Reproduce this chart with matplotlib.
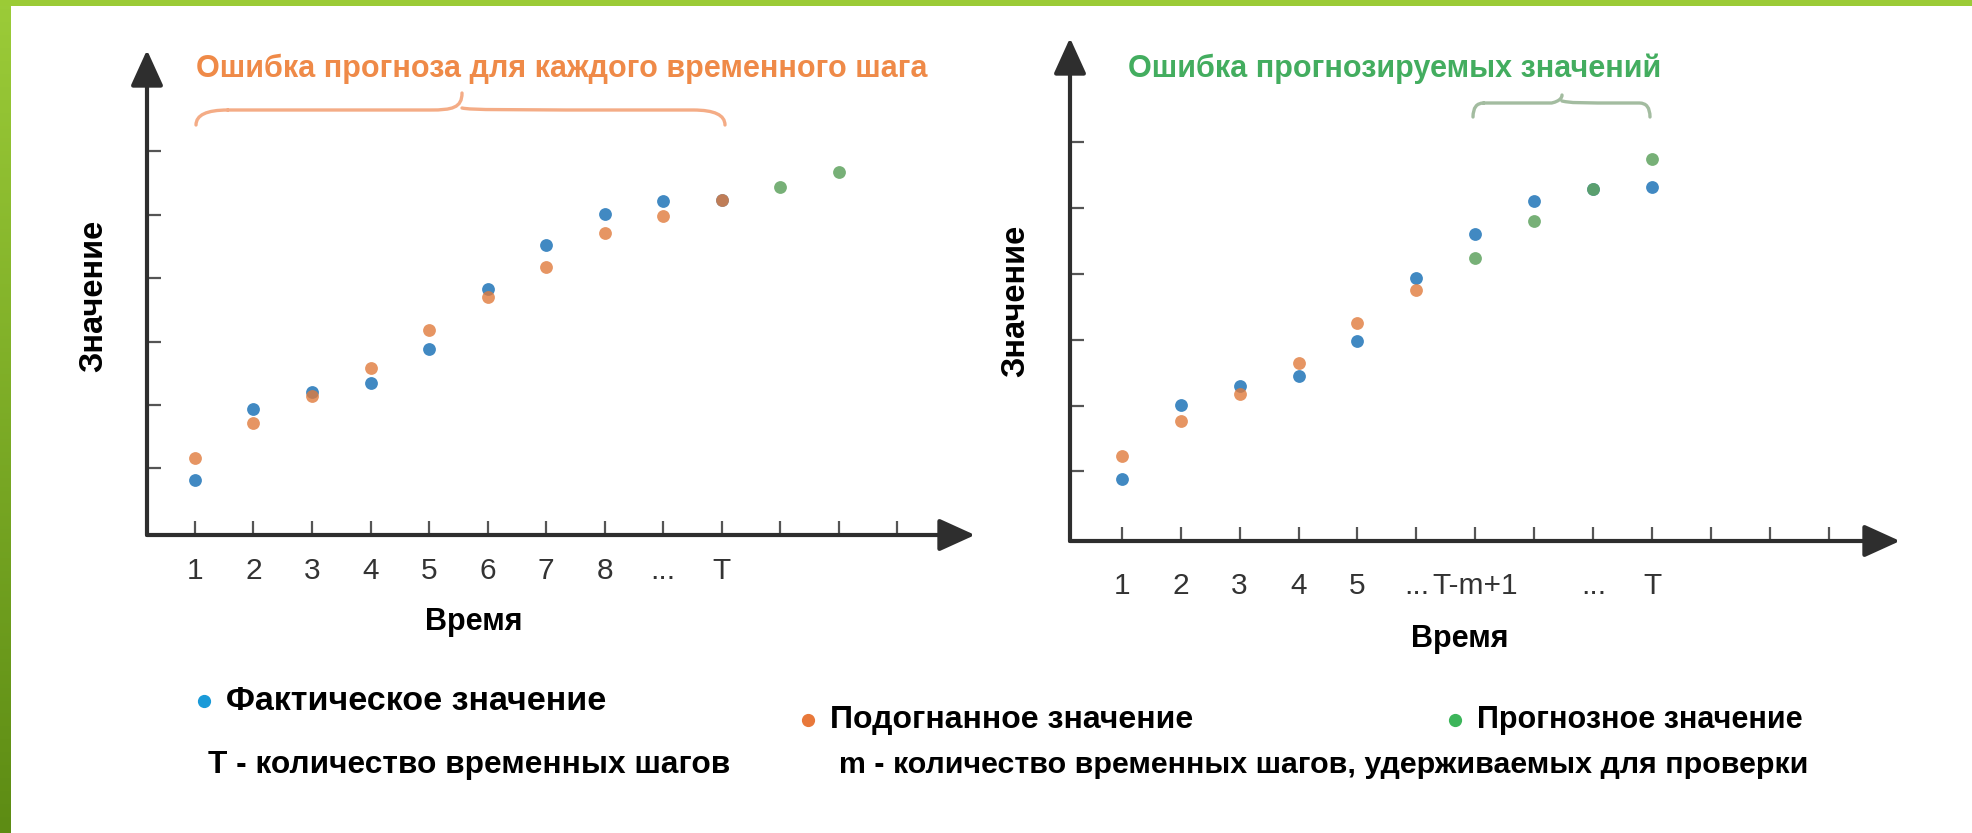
import numpy as np
import matplotlib.pyplot as plt
from matplotlib.path import Path
from matplotlib.patches import PathPatch, Rectangle
from matplotlib.colors import LinearSegmentedColormap

W, H = 1972, 833

# left panel: error of fit for each time step
left_x = [1, 2, 3, 4, 5, 6, 7, 8, 9, 10]
left_actual = [0.81, 1.94, 2.21, 2.34, 2.89, 3.83, 4.52, 5.02, 5.22, 5.24]
left_fitted = [1.17, 1.71, 2.14, 2.58, 3.18, 3.70, 4.17, 4.72, 4.98, 5.24]
left_fc_x = [11, 12]
left_forecast = [5.44, 5.67]
left_ticklabels = ['1', '2', '3', '4', '5', '6', '7', '8', '...', 'T', '', '', '']

# right panel: error of forecast values (last m steps held out)
right_x = [1, 2, 3, 4, 5, 6, 7, 8, 9, 10]
right_actual = [0.89, 2.01, 2.30, 2.45, 2.98, 3.94, 4.61, 5.10, 5.29, 5.32]
right_fit_x = [1, 2, 3, 4, 5, 6]
right_fitted = [1.24, 1.76, 2.18, 2.64, 3.26, 3.76]
right_fc_x = [7, 8, 9, 10]
right_forecast = [4.24, 4.80, 5.29, 5.75]
right_ticklabels = ['1', '2', '3', '4', '5', '...', 'T-m+1', '', '...', 'T', '', '', '']

x_ticks = list(range(1, 14))
y_ticks = [1, 2, 3, 4, 5, 6]

BLUE = '#1f74b8'
ORANGE = '#e07b3c'
GREEN = '#5fa35f'

plt.rcParams['font.family'] = ['Liberation Sans', 'DejaVu Sans']

fig = plt.figure(figsize=(W / 100, H / 100), dpi=100)
fig.patch.set_facecolor('white')


def px_axes(x0, y0, x1, y1):
    # rectangle given in image pixels (origin top-left)
    return fig.add_axes([x0 / W, 1 - y1 / H, (x1 - x0) / W, (y1 - y0) / H])


def setup(ax, xlim, ylim, labels, label_pad):
    ax.set_xlim(*xlim)
    ax.set_ylim(*ylim)
    for s in ax.spines.values():
        s.set_visible(False)
    ax.set_xticks(x_ticks)
    ax.set_xticklabels(labels)
    ax.set_yticks(y_ticks)
    ax.set_yticklabels([])
    ax.tick_params(axis='both', direction='in', length=10, width=1.6, color='#555555')
    ax.tick_params(axis='x', pad=label_pad, labelsize=21.5, labelcolor='#333333')
    # axes drawn as arrows
    arrow = dict(arrowstyle='-|>,head_length=1.1,head_width=0.5', mutation_scale=20,
                 lw=3, color='#2e2e2e', shrinkA=0, shrinkB=0)
    ax.annotate('', xy=(1, 0), xytext=(0, 0), xycoords='axes fraction', arrowprops=arrow)
    ax.annotate('', xy=(0, 1), xytext=(0, 0), xycoords='axes fraction', arrowprops=arrow)
    ax.set_ylabel('Значение', fontsize=23.5, fontweight='bold')
    ax.set_xlabel('Время', fontsize=22, fontweight='bold')


# ---- left panel
ax1 = px_axes(147, 50, 975, 535)
setup(ax1, (0.18, 14.33), (-0.05, 7.60), left_ticklabels, 16)
ax1.scatter(left_x, left_actual, s=85, color=BLUE, alpha=0.85, lw=0, zorder=3)
ax1.scatter(left_x, left_fitted, s=85, color=ORANGE, alpha=0.8, lw=0, zorder=3)
ax1.scatter(left_fc_x, left_forecast, s=85, color=GREEN, alpha=0.85, lw=0, zorder=3)
ax1.yaxis.set_label_coords(-0.046, 0.493)
ax1.xaxis.set_label_coords(0.395, -0.149)

# ---- right panel
ax2 = px_axes(1070, 38, 1900, 541)
setup(ax2, (0.125, 14.2), (-0.056, 7.58), right_ticklabels, 22)
ax2.scatter(right_x, right_actual, s=85, color=BLUE, alpha=0.85, lw=0, zorder=3)
ax2.scatter(right_fit_x, right_fitted, s=85, color=ORANGE, alpha=0.8, lw=0, zorder=3)
ax2.scatter(right_fc_x, right_forecast, s=85, color=GREEN, alpha=0.85, lw=0, zorder=3)
ax2.yaxis.set_label_coords(-0.046, 0.477)
ax2.xaxis.set_label_coords(0.470, -0.165)


def ftext(x, y, s, **kw):
    fig.text(x / W, 1 - y / H, s, **kw)


def brace(x0, x1, xc, y_end, y_flat, y_tip, color):
    r = 0.06 * (x1 - x0)
    pts = [(x0, y_end), (x0, y_flat), (x0 + r, y_flat), (x0 + r, y_flat),
           (xc - r, y_flat), (xc - 10, y_flat), (xc, y_flat - 2), (xc, y_tip),
           (xc, y_flat - 2), (xc + 10, y_flat), (xc + r, y_flat),
           (x1 - r, y_flat), (x1, y_flat), (x1, y_end)]
    codes = [Path.MOVETO, Path.CURVE3, Path.CURVE3, Path.MOVETO,
             Path.LINETO, Path.CURVE4, Path.CURVE4, Path.CURVE4,
             Path.MOVETO, Path.CURVE4, Path.CURVE4,
             Path.LINETO, Path.CURVE3, Path.CURVE3]
    verts = [(x / W, 1 - y / H) for x, y in pts]
    fig.add_artist(PathPatch(Path(verts, codes), transform=fig.transFigure,
                             fill=False, lw=2.4, edgecolor=color, capstyle='round'))


ftext(562, 69, 'Ошибка прогноза для каждого временного шага', fontsize=22,
      fontweight='bold', color='#ef8a48', ha='center', va='center')
brace(196, 725, 462, 125, 110, 93, '#f4ac86')

ftext(1395, 69, 'Ошибка прогнозируемых значений', fontsize=22,
      fontweight='bold', color='#43ad5f', ha='center', va='center')
brace(1473, 1650, 1562, 117, 103, 95, '#a3bca0')

# legend
for x, y, c, s, fs in [(204, 701, '#1a9ad8', 'Фактическое значение', 24.5),
                       (808, 720, '#e8783a', 'Подогнанное значение', 23),
                       (1455, 720, '#3cb55a', 'Прогнозное значение', 22)]:
    fig.add_artist(plt.Line2D([x / W], [1 - y / H], marker='o', ms=8.5, color=c,
                              transform=fig.transFigure))
    ftext(x + 22, y, s, fontsize=fs, fontweight='bold', va='center')

ftext(208, 765, 'T - количество временных шагов', fontsize=22.8, fontweight='bold', va='center')
ftext(839, 765, 'm - количество временных шагов, удерживаемых для проверки', fontsize=21.9,
      fontweight='bold', va='center')

# green frame of the slide
fig.add_artist(Rectangle((0, 1 - 6 / H), 1, 6 / H, transform=fig.transFigure,
                         color='#9bcb36', lw=0))
bar = fig.add_axes([0, 0, 11 / W, 1 - 6 / H])
grad = np.linspace(0, 1, 256).reshape(-1, 1)
cmap = LinearSegmentedColormap.from_list('g', ['#9bcb38', '#5d8c14'])
bar.imshow(grad, aspect='auto', cmap=cmap, extent=(0, 1, 0, 1), origin='upper')
bar.axis('off')

fig.savefig('out.png', dpi=100)
